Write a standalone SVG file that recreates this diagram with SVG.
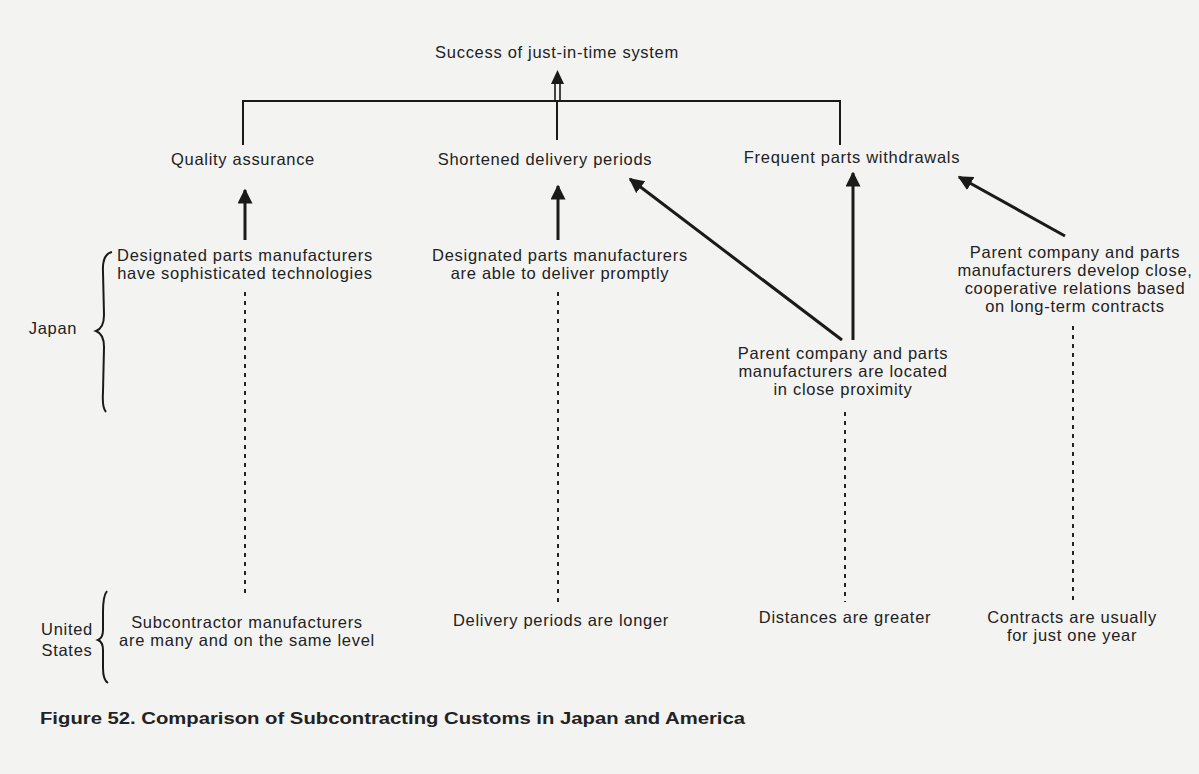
<svg xmlns="http://www.w3.org/2000/svg" width="1199" height="774" viewBox="0 0 1199 774">
<defs>
<marker id="ah" viewBox="0 0 10 10" refX="9" refY="5" markerWidth="5" markerHeight="5" orient="auto" markerUnits="strokeWidth">
<path d="M0,0 L10,5 L0,10 z" fill="#1a1a1a"/>
</marker>
</defs>
<style>
text{font-family:"Liberation Sans",Arial,sans-serif;font-size:16.5px;letter-spacing:0.7px;fill:#222;text-anchor:middle}
.l{fill:none;stroke:#1a1a1a;stroke-width:2}
.a{fill:none;stroke:#1a1a1a;stroke-width:3;marker-end:url(#ah)}
.d{fill:none;stroke:#222;stroke-width:2;stroke-dasharray:4 5}
.cap{font-weight:bold;font-size:16px;letter-spacing:0;text-anchor:start}
</style>
<rect width="1199" height="774" fill="#f3f3f2"/>
<g id="connectors">
<path class="l" d="M243,145 V101 H840 V145"/>
<path class="l" d="M557,140 V101"/>
<path d="M555,101 V83 M560,101 V83" stroke="#1a1a1a" stroke-width="1.6" fill="none"/>
<path d="M551,84 L557.5,70 L564,84 z" fill="#1a1a1a"/>
<line class="a" x1="245" y1="240" x2="245" y2="190"/>
<line class="a" x1="558" y1="240" x2="558" y2="186"/>
<line class="a" x1="853" y1="340" x2="853" y2="173"/>
<line class="a" x1="842" y1="340" x2="630" y2="179"/>
<line class="a" x1="1065" y1="236" x2="959" y2="177"/>
<line class="d" x1="245" y1="292" x2="245" y2="598"/>
<line class="d" x1="558" y1="292" x2="558" y2="602"/>
<line class="d" x1="845" y1="412" x2="845" y2="602"/>
<line class="d" x1="1073" y1="326" x2="1073" y2="602"/>
</g>
<g id="braces" fill="none" stroke="#1a1a1a" stroke-width="2">
<path d="M112,252 Q102,254 103,272 L104,315 Q104,328 96,331 Q104,334 104,347 L103,392 Q102,408 106,412"/>
<path d="M107,591 Q103,596 103,612 L103,630 Q103,638 98,640 Q103,642 103,650 L103,668 Q103,680 108,683"/>
</g>
<g id="top"><text x="557" y="58">Success of just-in-time system</text></g>
<g id="quality"><text x="243" y="165">Quality assurance</text></g>
<g id="shortened"><text x="545" y="165">Shortened delivery periods</text></g>
<g id="frequent"><text x="852" y="163">Frequent parts withdrawals</text></g>
<g id="jp1"><text x="245" y="261">Designated parts manufacturers</text><text x="245" y="279">have sophisticated technologies</text></g>
<g id="jp2"><text x="560" y="261">Designated parts manufacturers</text><text x="560" y="279">are able to deliver promptly</text></g>
<g id="jp3"><text x="843" y="359">Parent company and parts</text><text x="843" y="377">manufacturers are located</text><text x="843" y="395">in close proximity</text></g>
<g id="jp4"><text x="1075" y="258">Parent company and parts</text><text x="1075" y="276">manufacturers develop close,</text><text x="1075" y="294">cooperative relations based</text><text x="1075" y="312">on long-term contracts</text></g>
<g id="japan"><text x="53" y="334">Japan</text></g>
<g id="us"><text x="67" y="635">United</text><text x="67" y="656">States</text></g>
<g id="us1"><text x="247" y="628">Subcontractor manufacturers</text><text x="247" y="646">are many and on the same level</text></g>
<g id="us2"><text x="561" y="626">Delivery periods are longer</text></g>
<g id="us3"><text x="845" y="623">Distances are greater</text></g>
<g id="us4"><text x="1072" y="623">Contracts are usually</text><text x="1072" y="641">for just one year</text></g>
<g id="caption"><text class="cap" x="40" y="724" textLength="705" lengthAdjust="spacingAndGlyphs">Figure 52.  Comparison of Subcontracting Customs in Japan and America</text></g>
</svg>
